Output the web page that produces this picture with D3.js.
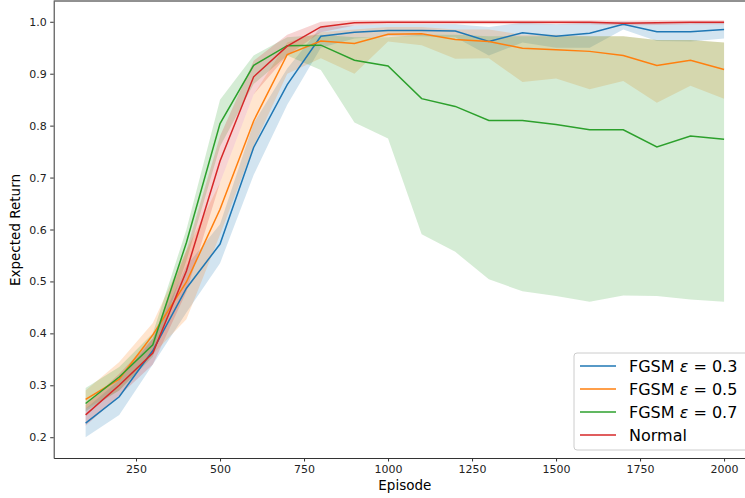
<!DOCTYPE html>
<html>
<head>
<meta charset="utf-8">
<script src="https://cdn.jsdelivr.net/npm/d3@7"></script>
<style>
  body { margin: 0; background: #fff; }
  svg { font-family: "DejaVu Sans", sans-serif; }
</style>
</head>
<body>
<div id="chart"></div>
<script>
// episodes on the x axis
const episodes = [100, 200, 300, 400, 500, 600, 700, 800, 900, 1000,
  1100, 1200, 1300, 1400, 1500, 1600, 1700, 1800, 1900, 2000];

// FGSM eps = 0.3
const fgsm03 = [0.227, 0.278, 0.367, 0.487, 0.572, 0.758, 0.879, 0.972, 0.980, 0.983,
  0.983, 0.982, 0.962, 0.979, 0.972, 0.978, 0.995, 0.981, 0.981, 0.985];
const fgsm03Lo = [0.200, 0.243, 0.340, 0.440, 0.535, 0.705, 0.840, 0.950, 0.968, 0.972,
  0.972, 0.970, 0.935, 0.960, 0.950, 0.950, 0.985, 0.963, 0.962, 0.968];
const fgsm03Hi = [0.255, 0.310, 0.390, 0.530, 0.610, 0.805, 0.910, 0.990, 0.993, 0.995,
  0.995, 0.995, 0.990, 0.998, 0.995, 0.998, 1.000, 0.997, 0.997, 1.000];

// FGSM eps = 0.5
const fgsm05 = [0.273, 0.312, 0.397, 0.499, 0.639, 0.809, 0.937, 0.963, 0.958, 0.976,
  0.977, 0.966, 0.962, 0.949, 0.946, 0.943, 0.935, 0.916, 0.926, 0.908];
const fgsm05Lo = [0.255, 0.290, 0.360, 0.427, 0.590, 0.760, 0.900, 0.930, 0.900, 0.962,
  0.955, 0.929, 0.930, 0.884, 0.891, 0.870, 0.886, 0.844, 0.877, 0.852];
const fgsm05Hi = [0.290, 0.345, 0.420, 0.560, 0.690, 0.860, 0.960, 0.980, 0.985, 0.990,
  0.990, 0.985, 0.985, 0.975, 0.975, 0.972, 0.972, 0.965, 0.965, 0.960];

// FGSM eps = 0.7
const fgsm07 = [0.265, 0.316, 0.378, 0.575, 0.804, 0.916, 0.954, 0.955, 0.926, 0.915,
  0.852, 0.837, 0.810, 0.810, 0.802, 0.792, 0.792, 0.759, 0.780, 0.774];
const fgsm07Lo = [0.250, 0.290, 0.355, 0.540, 0.760, 0.880, 0.935, 0.907, 0.806, 0.775,
  0.591, 0.557, 0.504, 0.481, 0.472, 0.461, 0.473, 0.472, 0.465, 0.461];
const fgsm07Hi = [0.295, 0.335, 0.400, 0.600, 0.850, 0.935, 0.970, 0.975, 0.970, 0.970,
  0.975, 0.975, 0.972, 0.972, 0.972, 0.972, 0.972, 0.965, 0.965, 0.960];

// no attack
const normal = [0.243, 0.300, 0.362, 0.520, 0.732, 0.894, 0.953, 0.990, 0.998, 0.999,
  0.999, 0.999, 0.999, 0.999, 0.999, 0.999, 0.997, 0.998, 0.999, 0.999];
const normalLo = [0.222, 0.280, 0.340, 0.480, 0.690, 0.860, 0.935, 0.980, 0.993, 0.995,
  0.995, 0.995, 0.995, 0.995, 0.995, 0.995, 0.993, 0.994, 0.995, 0.995];
const normalHi = [0.262, 0.322, 0.390, 0.560, 0.780, 0.925, 0.975, 1.000, 1.003, 1.003,
  1.003, 1.003, 1.003, 1.003, 1.003, 1.003, 1.002, 1.003, 1.003, 1.003];

const xTicks = [250, 500, 750, 1000, 1250, 1500, 1750, 2000];
const yTicks = [0.2, 0.3, 0.4, 0.5, 0.6, 0.7, 0.8, 0.9, 1.0];

const series = [
  { label: "FGSM", eps: "0.3", color: "#1f77b4", mean: fgsm03, lo: fgsm03Lo, hi: fgsm03Hi },
  { label: "FGSM", eps: "0.5", color: "#ff7f0e", mean: fgsm05, lo: fgsm05Lo, hi: fgsm05Hi },
  { label: "FGSM", eps: "0.7", color: "#2ca02c", mean: fgsm07, lo: fgsm07Lo, hi: fgsm07Hi },
  { label: "Normal", eps: null, color: "#d62728", mean: normal, lo: normalLo, hi: normalHi },
];

const width = 745;
const height = 498;

const svg = d3.select("#chart")
  .append("svg")
  .attr("width", width)
  .attr("height", height);

// plot area runs off the right edge, like the cropped figure
const x = d3.scaleLinear().domain([5, 2095]).range([53.7, 756]);
const y = d3.scaleLinear().domain([0.16, 1.04]).range([458, 1]);

const area = d3.area()
  .x((d, i) => x(episodes[i]))
  .y0((d) => y(d[0]))
  .y1((d) => y(d[1]));

const line = d3.line()
  .x((d, i) => x(episodes[i]))
  .y((d) => y(d));

// bands first
series.forEach((s) => {
  svg.append("path")
    .datum(s.lo.map((v, i) => [v, s.hi[i]]))
    .attr("d", area)
    .attr("fill", s.color)
    .attr("fill-opacity", 0.2);
});

series.forEach((s) => {
  svg.append("path")
    .datum(s.mean)
    .attr("d", line)
    .attr("fill", "none")
    .attr("stroke", s.color)
    .attr("stroke-width", 1.5);
});

// axes
const xAxis = svg.append("g")
  .attr("transform", "translate(0,458)")
  .call(d3.axisBottom(x).tickValues(xTicks).tickFormat(d3.format("d"))
    .tickSizeInner(3.5).tickSizeOuter(0).tickPadding(3.5));

const yAxis = svg.append("g")
  .attr("transform", "translate(53.7,0)")
  .call(d3.axisLeft(y).tickValues(yTicks).tickFormat(d3.format(".1f"))
    .tickSizeInner(3.5).tickSizeOuter(0).tickPadding(3.5));

[xAxis, yAxis].forEach((g) => {
  g.select(".domain").attr("stroke", "#333").attr("stroke-width", 1);
  g.selectAll(".tick line").attr("stroke", "#333");
  g.selectAll(".tick text")
    .attr("fill", "#222")
    .style("font-size", "11px")
    .style("font-family", "DejaVu Sans");
});

// top spine
svg.append("line")
  .attr("x1", 53.7).attr("x2", width)
  .attr("y1", 1).attr("y2", 1)
  .attr("stroke", "#222");

svg.append("text")
  .attr("x", x(1050))
  .attr("y", 490)
  .attr("text-anchor", "middle")
  .style("font-size", "13.5px")
  .text("Episode");

svg.append("text")
  .attr("transform", "translate(20,230) rotate(-90)")
  .attr("text-anchor", "middle")
  .style("font-size", "13.5px")
  .text("Expected Return");

// legend
const legend = svg.append("g").attr("transform", "translate(574,353)");

legend.append("rect")
  .attr("width", 185)
  .attr("height", 97)
  .attr("rx", 3)
  .attr("fill", "#fff")
  .attr("fill-opacity", 0.8)
  .attr("stroke", "#ccc");

series.forEach((s, i) => {
  const row = legend.append("g").attr("transform", `translate(0,${13 + i * 23})`);
  row.append("line")
    .attr("x1", 6).attr("x2", 42)
    .attr("stroke", s.color)
    .attr("stroke-width", 1.5);
  const t = row.append("text")
    .attr("x", 55)
    .attr("dy", "0.36em")
    .style("font-size", "16px");
  t.append("tspan").text(s.label);
  if (s.eps) {
    t.append("tspan").text(" ");
    t.append("tspan").style("font-style", "italic").text("ε");
    t.append("tspan").text(" = " + s.eps);
  }
});
</script>
</body>
</html>
